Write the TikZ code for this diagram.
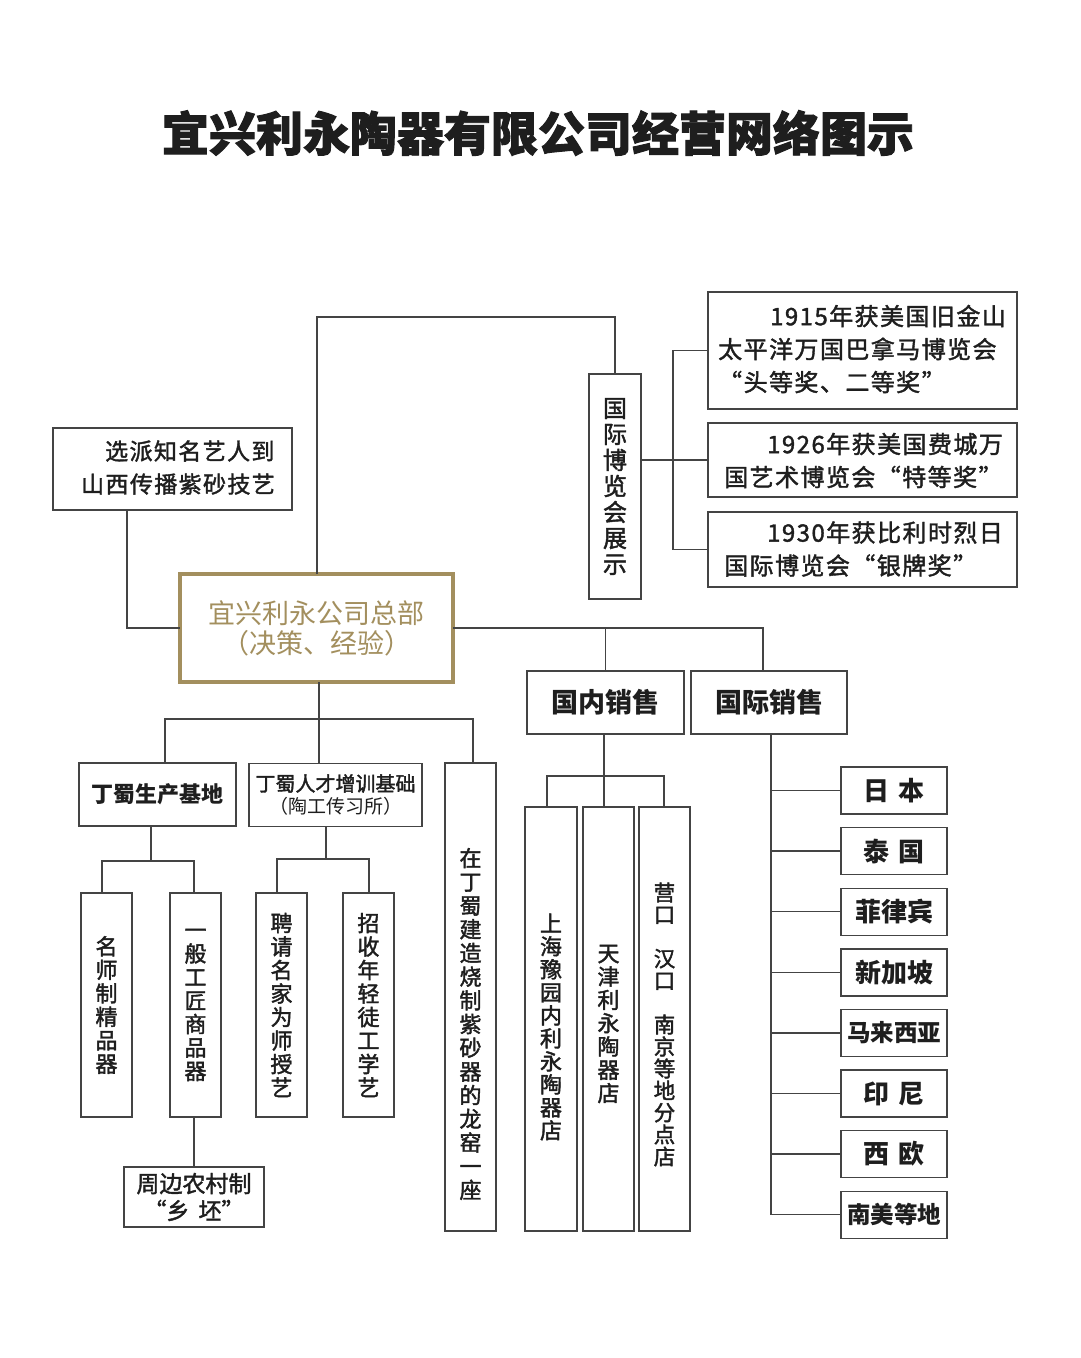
\documentclass[tikz,border=0pt]{standalone}
\usepackage{fontspec}
\newfontfamily\cjk{Noto Sans CJK SC}
\newfontfamily\cjkm[FakeBold=1.8]{Noto Sans CJK SC}
\newfontfamily\cjkls[FakeBold=1.6,LetterSpace=6]{Noto Sans CJK SC}
\newfontfamily\cjkt[FakeBold=2]{Noto Sans CJK SC}
\definecolor{linec}{HTML}{444444}
\definecolor{txt}{HTML}{1E1E1E}
\definecolor{gold}{HTML}{A38F5E}
\begin{document}
\begin{tikzpicture}[x=1pt,y=-1pt,
  box/.style={draw=linec, line width=1.4pt, rectangle, inner sep=0pt, outer sep=0pt, text=txt},
  conn/.style={draw=linec, line width=1.4pt},
  vbox/.style={box, minimum width=51pt, align=center, font=\cjkm\fontsize{22}{23.5}\selectfont},
  vtext/.style={align=center, inner sep=0pt, text=txt, font=\cjkm\fontsize{22}{23.5}\selectfont},
  atext/.style={anchor=west, align=left, inner sep=0pt, text=txt, font=\cjkls\fontsize{24}{33}\selectfont},
  cbox/.style={box, minimum width=106pt, minimum height=47pt, font=\cjk\bfseries\fontsize{26}{28}\selectfont}
]
\fill[white] (0,0) rectangle (1080,1358);
\useasboundingbox (0,0) rectangle (1080,1358);

% title
\node[inner sep=0pt, text=txt, font=\cjkt\bfseries\fontsize{47}{50}\selectfont] (title) at (538,133) {宜兴利永陶器有限公司经营网络图示};

% headquarters
\node[draw=gold, line width=4pt, minimum width=273pt, minimum height=108pt, inner sep=0pt, outer sep=0pt,
  text=gold, align=center, font=\cjk\fontsize{27}{30}\selectfont] (hq) at (316.5,628) {宜兴利永公司总部\\（决策、经验）};

% left top box
\node[box, minimum width=239pt, minimum height=82pt] (sel) at (172.5,469) {};
\node[anchor=west, align=left, inner sep=0pt, text=txt, font=\cjkls\fontsize{23}{33}\selectfont] (selt) at (81,467.5) {\hspace*{24pt}选派知名艺人到\\山西传播紫砂技艺};

% expo
\node[box, minimum width=52pt, minimum height=225pt, align=center, font=\cjkm\fontsize{24}{26}\selectfont] (expo) at (615,486.5) {国\\际\\博\\览\\会\\展\\示};

% awards
\node[box, minimum width=309pt, minimum height=117pt] (a1) at (862.5,350.5) {};
\node[atext] (a1t) at (718,349) {\hspace*{52pt}1915年获美国旧金山\\太平洋万国巴拿马博览会\\“头等奖、二等奖”};
\node[box, minimum width=309pt, minimum height=74pt] (a2) at (862.5,460) {};
\node[atext] (a2t) at (724,460.5) {\hspace*{43pt}1926年获美国费城万\\国艺术博览会“特等奖”};
\node[box, minimum width=309pt, minimum height=75pt] (a3) at (862.5,549.5) {};
\node[atext] (a3t) at (724,549) {\hspace*{43pt}1930年获比利时烈日\\国际博览会“银牌奖”};

% sales
\node[box, minimum width=157pt, minimum height=63pt, font=\cjk\bfseries\fontsize{27}{30}\selectfont] (dom) at (605.5,702.5) {国内销售};
\node[box, minimum width=156pt, minimum height=63pt, font=\cjk\bfseries\fontsize{27}{30}\selectfont] (intl) at (769,702.5) {国际销售};

% bases
\node[box, minimum width=157pt, minimum height=63pt, font=\cjk\bfseries\fontsize{22}{25}\selectfont] (base1) at (157.5,794.5) {丁蜀生产基地};
\node[box, minimum width=173pt, minimum height=63pt, align=center] (base2) at (335.5,795)
  {\cjkm\fontsize{20}{25}\selectfont 丁蜀人才增训基础\\[4pt]\cjk\fontsize{19}{25}\selectfont（陶工传习所）};
\node[box, minimum width=51pt, minimum height=468pt] (kiln) at (470.5,997) {};
\node[vtext, font=\cjkm\fontsize{22}{23.7}\selectfont] (kilnt) at (470.5,1024) {在\\丁\\蜀\\建\\造\\烧\\制\\紫\\砂\\器\\的\\龙\\窑\\一\\座};

\node[vbox, minimum height=224pt] (ms) at (106.5,1005) {名\\师\\制\\精\\品\\器};
\node[vbox, minimum height=224pt] (yb) at (195.5,1005) {一\\般\\工\\匠\\商\\品\\器};
\node[box, minimum width=140pt, minimum height=60pt, align=center, font=\cjkm\fontsize{23}{27}\selectfont] (zb) at (194,1197) {周边农村制\\“乡\hspace{9pt}坯”};
\node[vbox, minimum height=224pt] (pq) at (281.5,1005) {聘\\请\\名\\家\\为\\师\\授\\艺};
\node[vbox, minimum height=224pt] (zs) at (368.5,1005) {招\\收\\年\\轻\\徒\\工\\学\\艺};

% domestic shops
\node[box, minimum width=52pt, minimum height=424pt] (sh) at (551,1019) {};
\node[vtext, font=\cjkm\fontsize{22}{23}\selectfont] (sht) at (551,1027) {上\\海\\豫\\园\\内\\利\\永\\陶\\器\\店};
\node[box, minimum width=51pt, minimum height=424pt] (tj) at (608.5,1019) {};
\node[vtext, font=\cjkm\fontsize{22}{23.3}\selectfont] (tjt) at (608.5,1024) {天\\津\\利\\永\\陶\\器\\店};
\node[box, minimum width=51pt, minimum height=424pt] (yk) at (664.5,1019) {};
\node[vtext, font=\cjkm\fontsize{21.5}{22}\selectfont] (ykt) at (664.5,1024.5) {营\\口\\[22pt]汉\\口\\[22pt]南\\京\\等\\地\\分\\点\\店};

% countries
\foreach \t [count=\i from 0] in {日\hspace{10pt}本, 泰\hspace{10pt}国, 菲律宾, 新加坡, {\fontsize{23.5}{26}\selectfont 马来西亚}, 印\hspace{10pt}尼, 西\hspace{10pt}欧, {\fontsize{23.5}{26}\selectfont 南美等地}}
  \node[cbox] (c\i) at (894,{790.5+60.6*\i}) {\t};

% junction coordinates
\coordinate (T1) at (317,317);
\coordinate (S1) at (127,628);
\coordinate (A1) at (673,0);
\coordinate (R1) at (763,627);
\coordinate (B0) at (319,719);
\coordinate (B1) at (165,719);
\coordinate (B3) at (473,719);
\coordinate (P0) at (151,861);
\coordinate (P1) at (102,861);
\coordinate (P2) at (194,861);
\coordinate (Q0) at (326,859);
\coordinate (Q1) at (277,859);
\coordinate (Q2) at (369,859);
\coordinate (D0) at (604,776);
\coordinate (D1) at (547,776);
\coordinate (D2) at (664,776);
\coordinate (I0) at (771,0);

% connectors
\draw[conn] (hq.north -| T1) -- (T1) -- (expo.north |- T1) -- (expo.north);
\draw[conn] (sel.south -| S1) -- (S1) -- (hq.west);
\draw[conn] (expo.east |- a2.west) -- (a2.west);
\draw[conn] (a1.west) -- (a1.west -| A1) -- (a3.west -| A1) -- (a3.west);
\draw[conn] (hq.east) -- (hq.east -| R1) -- (intl.north -| R1);
\draw[conn] (dom.north) -- (dom.north |- hq.east);
\draw[conn] (hq.south -| B0) -- (B0) -- (base2.north -| B0);
\draw[conn] (base1.north -| B1) -- (B1) -- (B3) -- (kiln.north -| B3);
\draw[conn] (base1.south -| P0) -- (P0);
\draw[conn] (ms.north -| P1) -- (P1) -- (P2) -- (yb.north -| P2);
\draw[conn] (yb.south -| P2) -- (zb.north -| P2);
\draw[conn] (base2.south -| Q0) -- (Q0);
\draw[conn] (pq.north -| Q1) -- (Q1) -- (Q2) -- (zs.north -| Q2);
\draw[conn] (dom.south -| D0) -- (tj.north -| D0);
\draw[conn] (sh.north -| D1) -- (D1) -- (D2) -- (yk.north -| D2);
\draw[conn] (intl.south -| I0) -- (c7.west -| I0) -- (c7.west);
\foreach \i in {0,...,6} \draw[conn] (c\i.west -| I0) -- (c\i.west);
\end{tikzpicture}
\end{document}
